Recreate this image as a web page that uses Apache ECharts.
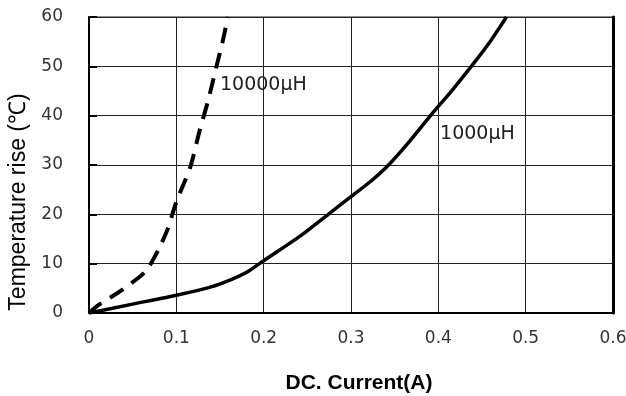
<!DOCTYPE html>
<html>
<head>
<meta charset="utf-8">
<script src="https://cdn.jsdelivr.net/npm/echarts@6/dist/echarts.min.js"></script>
<style>html,body{margin:0;padding:0;background:#fff}#c{width:626px;height:396px}</style>
</head>
<body>
<div id="c"></div>
<script>
const xTicks = [0, 0.1, 0.2, 0.3, 0.4, 0.5, 0.6];
const yTicks = [0, 10, 20, 30, 40, 50, 60];
const curve1000 = [[0,0],[0.05,1.8],[0.1,3.6],[0.14,5.3],[0.162,6.7],[0.182,8.4],[0.2,10.6],[0.245,16],[0.274,20],[0.3,23.6],[0.322,26.6],[0.343,30],[0.368,35],[0.391,40],[0.416,45.2],[0.44,50.5],[0.46,55.2],[0.478,60]];
const curve10000 = [[0,0],[0.01,1.5],[0.038,4.7],[0.065,8.5],[0.08,13],[0.09,17],[0.1,22.5],[0.116,29.6],[0.127,37.2],[0.136,42.8],[0.146,50],[0.153,55],[0.159,60]];
const labelText = ['10000µH', '1000µH'];
const labelPos = [[0.150, 46.2], [0.402, 36.3]];

const chart = echarts.init(document.getElementById('c'), null, {renderer:'canvas'});
const tickFont = {fontFamily:'DejaVu Sans', fontSize:17, color:'#333'};
chart.setOption({
  animation:false,
  backgroundColor:'#fff',
  grid:{left:89, right:13, top:17, bottom:83, outerBoundsMode:'none', containLabel:false, show:true, borderColor:'#222', borderWidth:1},
  xAxis:{type:'value', min:0, max:0.6, interval:0.1,
    name:'DC. Current(A)', nameLocation:'middle', nameGap:60,
    nameTextStyle:{fontFamily:'Liberation Sans', fontWeight:'bold', fontSize:21, color:'#000', padding:[0,0,0,16]},
    axisLine:{lineStyle:{color:'#000', width:2}},
    axisTick:{show:false},
    splitLine:{show:true, lineStyle:{color:'#222', width:1}},
    axisLabel:Object.assign({margin:17, formatter:v=>String(+v.toFixed(1))}, tickFont)
  },
  yAxis:[{type:'value', min:0, max:60, interval:10,
    name:'Temperature rise (℃)', nameLocation:'middle', nameGap:56,
    nameTextStyle:{fontFamily:'Liberation Sans', fontSize:23, color:'#000', padding:[0,74,0,0]},
    axisLine:{show:true, lineStyle:{color:'#000', width:2}},
    axisTick:{show:true, inside:true, length:8, lineStyle:{color:'#000', width:2}},
    splitLine:{show:true, lineStyle:{color:'#222', width:1}},
    axisLabel:Object.assign({margin:26}, tickFont)
  },{type:'value', min:0, max:60, interval:10, position:'right',
    axisLine:{show:true, lineStyle:{color:'#000', width:3}},
    axisTick:{show:false}, axisLabel:{show:false}, splitLine:{show:false}
  }],
  series:[{
    type:'line', data:curve1000, smooth:0.25, symbol:'none',
    lineStyle:{color:'#000', width:3.5},
    markPoint:{symbol:'circle', symbolSize:0, data:[{coord:labelPos[1], value:labelText[1]}],
      label:{show:true, position:'right', distance:0, formatter:labelText[1], fontFamily:'DejaVu Sans', fontSize:19, color:'#222'}}
  },{
    type:'line', data:curve10000, smooth:0.25, symbol:'none',
    lineStyle:{color:'#000', width:4, type:[16,10]},
    markPoint:{symbol:'circle', symbolSize:0, data:[{coord:labelPos[0], value:labelText[0]}],
      label:{show:true, position:'right', distance:0, formatter:labelText[0], fontFamily:'DejaVu Sans', fontSize:19, color:'#222'}}
  }]
});
</script>
</body>
</html>
